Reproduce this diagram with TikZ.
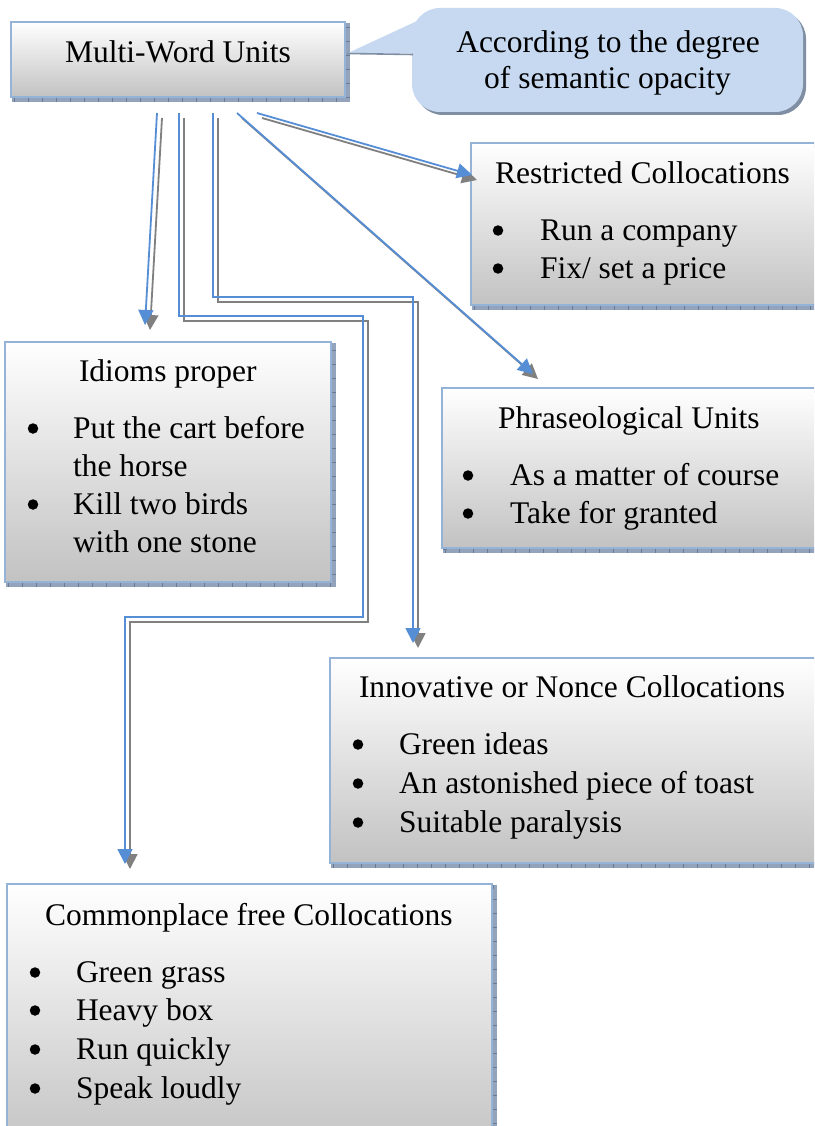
\documentclass[tikz,border=0pt]{standalone}
\usepackage{fontspec}
\setmainfont{Liberation Serif}
\usetikzlibrary{arrows.meta}

\definecolor{edgeblue}{HTML}{95B3D7}
\definecolor{linkblue}{HTML}{558ED5}
\definecolor{linkgray}{HTML}{808080}
\definecolor{notefill}{HTML}{C6D9F1}
\definecolor{noteshade}{HTML}{7F8EA3}
\definecolor{stripblue}{HTML}{93A3BC}
\definecolor{tickblue}{HTML}{687A96}
\definecolor{panelgray}{HTML}{C2C2C2}

\tikzset{
  every node/.style={font=\fontsize{31.5}{38}\selectfont, inner sep=0pt, outer sep=0pt},
  panel/.style={anchor=north west, rectangle,
    top color=white, bottom color=panelgray,
    draw=edgeblue, line width=2pt,
    preaction={draw=stripblue, line width=4pt, transform canvas={shift={(3pt,-3pt)}}},
    preaction={draw=tickblue, line width=4pt, dash pattern=on 1pt off 13pt,
               transform canvas={shift={(3pt,-3pt)}}}},
  note/.style={anchor=north west, rectangle, rounded corners=28pt,
    fill=notefill,
    preaction={fill=noteshade, transform canvas={shift={(3pt,-3pt)}}}},
  head/.style={anchor=base west},
  centred/.style={anchor=base},
  dot/.style={circle, fill=black, minimum size=10.5pt, yshift=9.5pt},
  entry/.style={anchor=base west},
  linkb/.style={draw=linkblue, line width=1.8pt,
    -{Triangle[length=15pt,width=15pt]}},
  linkg/.style={draw=linkgray, line width=1.8pt,
    -{Triangle[length=15pt,width=15pt]},
    transform canvas={shift={(5pt,-5pt)}}},
}

\begin{document}
\begin{tikzpicture}[x=1pt,y=-1pt]
\useasboundingbox (0,0) rectangle (814,1126);
\fill[white] (0,0) rectangle (814,1126);
\clip (0,0) rectangle (814,1126);

% ---- boxes ----
\node[panel, minimum width=334pt, minimum height=75pt] (mwu) at (11,22) {};
\node[panel, minimum width=360pt, minimum height=162pt] (restr) at (471,143) {};
\node[panel, minimum width=326pt, minimum height=240pt] (idioms) at (5,342) {};
\node[panel, minimum width=380pt, minimum height=160pt] (phras) at (442,388) {};
\node[panel, minimum width=500pt, minimum height=205pt] (innov) at (330,658) {};
\node[panel, minimum width=485pt, minimum height=270pt] (common) at (7,884) {};

% ---- callout ----
\node[note, minimum width=391pt, minimum height=104pt] (note) at (412,8) {};
\coordinate (tip) at (347,53.5);
\fill[notefill] (tip) -- (417,21) -- (417,53.5) -- cycle;
\draw[noteshade, line width=1.6pt] (tip) -- (413,54.5);
\node[centred] (note1) at (608,53) {According to the degree};
\node[centred] (note2) at (607.5,89) {of semantic opacity};

% ---- texts ----
\node[centred] (mwut) at (178,63) {Multi-Word Units};

\node[head] (restrt) at (495,183) {Restricted Collocations};
\node[dot] (restrb1) at (498,240) {};
\node[entry] (restr1) at (540,240) {Run a company};
\node[dot] (restrb2) at (498,278) {};
\node[entry] (restr2) at (540,278) {Fix/ set a price};

\node[head] (idiomst) at (79,381) {Idioms proper};
\node[dot] (idiomsb1) at (33,438) {};
\node[entry] (idioms1) at (73,438) {Put the cart before};
\node[entry] (idioms1b) at (73,476) {the horse};
\node[dot] (idiomsb2) at (33,514) {};
\node[entry] (idioms2) at (73,514) {Kill two birds};
\node[entry] (idioms2b) at (73,552) {with one stone};

\node[head] (phrast) at (498,428) {Phraseological Units};
\node[dot] (phrasb1) at (468,485) {};
\node[entry] (phras1) at (510,485) {As a matter of course};
\node[dot] (phrasb2) at (468,523) {};
\node[entry] (phras2) at (510,523) {Take for granted};

\node[head] (innovt) at (359,697) {Innovative or Nonce Collocations};
\node[dot] (innovb1) at (358,754) {};
\node[entry] (innov1) at (399,754) {Green ideas};
\node[dot] (innovb2) at (358,793) {};
\node[entry] (innov2) at (399,793) {An astonished piece of toast};
\node[dot] (innovb3) at (358,832) {};
\node[entry] (innov3) at (399,832) {Suitable paralysis};

\node[head] (commont) at (45,925) {Commonplace free Collocations};
\node[dot] (commonb1) at (35,982) {};
\node[entry] (common1) at (76,982) {Green grass};
\node[dot] (commonb2) at (35,1020) {};
\node[entry] (common2) at (76,1020) {Heavy box};
\node[dot] (commonb3) at (35,1059) {};
\node[entry] (common3) at (76,1059) {Run quickly};
\node[dot] (commonb4) at (35,1098) {};
\node[entry] (common4) at (76,1098) {Speak loudly};

% ---- connector ends ----
\coordinate (sA) at (157,113);  \coordinate (eA) at (145,325);
\coordinate (sB) at (179,113);  \coordinate (eB) at (125,864);
\coordinate (sC) at (213,113);  \coordinate (eC) at (413,643);
\coordinate (sD) at (237,113);  \coordinate (eD) at (533,374);
\coordinate (sE) at (257,113);  \coordinate (eE) at (472,175);

% ---- connectors: grey shadow first, blue line on top ----
\foreach \lk in {linkg,linkb}{
  \draw[\lk] (sA) -- (eA);
  \draw[\lk] (sB) |- (363,316) |- (125,617) -- (eB);
  \draw[\lk] (sC) |- (413,297) -- (eC);
  \draw[\lk] (sD) -- (eD);
  \draw[\lk] (sE) -- (eE);
}
\end{tikzpicture}
\end{document}
